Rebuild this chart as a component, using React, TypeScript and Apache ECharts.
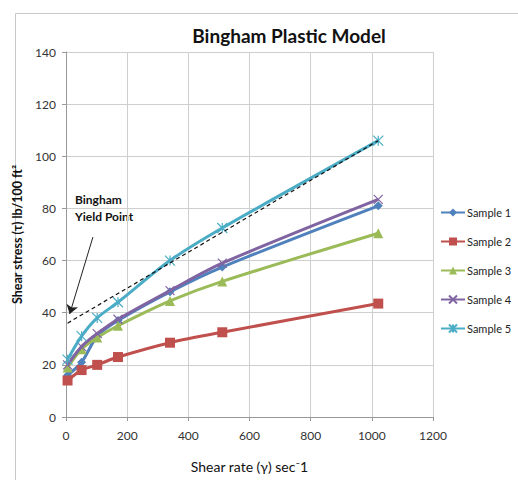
import React, { useEffect, useRef } from "react";
import * as echarts from "echarts";

const shearRate = [5.1, 51, 102, 170, 340, 511, 1021];
const sample1 = [16, 21, 31, 37, 48, 57.5, 81];
const sample2 = [14, 18, 20, 23, 28.5, 32.5, 43.5];
const sample3 = [19, 26, 30.5, 35, 44.5, 52, 70.5];
const sample4 = [20, 27, 32, 37.5, 48.5, 59, 83.5];
const sample5 = [22, 31, 38, 44, 60, 72.5, 106];
const binghamLineX = [5.1, 1021];
const binghamLineY = [36, 106];
const seriesNames = ["Sample 1", "Sample 2", "Sample 3", "Sample 4", "Sample 5"];
const colors = ["#4F81BD", "#C0504D", "#9BBB59", "#8064A2", "#4BACC6"];

const FONT = "Lato, 'Open Sans', sans-serif";

export default function App() {
  const ref = useRef<HTMLDivElement>(null);
  useEffect(() => {
    if (!ref.current) return;
    const chart = echarts.init(ref.current, null, { renderer: "svg" });
    const all = [sample1, sample2, sample3, sample4, sample5];
    const symbols = [
      "diamond",
      "rect",
      "triangle",
      "path://M0,0L10,10M10,0L0,10",
      "path://M0,0L10,10M10,0L0,10M5,0L5,10",
    ];
    const sizes = [9, 10, 10, 9, 10];
    const series: any[] = all.map((vals, i) => ({
      name: seriesNames[i],
      type: "line",
      smooth: 0.3,
      data: vals.map((v, j) => [shearRate[j], v]),
      symbol: symbols[i],
      symbolSize: sizes[i],
      showSymbol: true,
      lineStyle: { color: colors[i], width: 3 },
      itemStyle: {
        color: colors[i],
        borderColor: colors[i],
        borderWidth: i >= 3 ? 1.2 : 0,
      },
      z: 3 + i,
    }));
    series.push({
      name: "Bingham line",
      type: "line",
      data: binghamLineX.map((x, j) => [x, binghamLineY[j]]),
      symbol: "none",
      lineStyle: { color: "#111", width: 1.2, type: [4, 3] },
      z: 10,
      markLine: {
        silent: true,
        symbol: ["none", "arrow"],
        symbolSize: 9,
        label: { show: false },
        lineStyle: { color: "#222", width: 1, type: "solid" },
        data: [[{ coord: [88, 69] }, { coord: [12, 39.5] }]],
      },
    });

    chart.setOption({
      animation: false,
      textStyle: { fontFamily: FONT },
      title: {
        text: "Bingham Plastic Model",
        left: 284,
        top: 21,
        textAlign: "center",
        textStyle: { fontFamily: FONT, fontSize: 19, fontWeight: "bold", color: "#111" },
      },
      grid: { left: 66, right: 85, top: 52, bottom: 63 },
      legend: {
        orient: "vertical",
        left: 440,
        top: 207,
        padding: 0,
        itemGap: 18,
        itemWidth: 24,
        itemHeight: 10,
        data: seriesNames,
        textStyle: { fontFamily: FONT, fontSize: 11, color: "#222", padding: [0, 0, 0, -3] },
      },
      xAxis: {
        type: "value",
        min: 0,
        max: 1200,
        interval: 200,
        name: "Shear rate (γ) sec⁻1",
        nameLocation: "middle",
        nameGap: 42,
        nameTextStyle: { fontFamily: FONT, fontSize: 14, color: "#111" },
        axisLine: { show: true, lineStyle: { color: "#999" } },
        axisTick: { show: true, length: 4, lineStyle: { color: "#999" } },
        axisLabel: {
          fontFamily: FONT,
          fontSize: 12,
          color: "#333",
          margin: 12,
          formatter: (v: number) => String(v),
        },
        splitLine: { show: true, lineStyle: { color: "#cfcfcf" } },
      },
      yAxis: {
        type: "value",
        min: 0,
        max: 140,
        interval: 20,
        name: "Shear stress (τ) lb/100 ft²",
        nameLocation: "middle",
        nameGap: 38,
        nameTextStyle: { fontFamily: FONT, fontSize: 12.5, fontWeight: "bold", color: "#111" },
        axisLine: { show: true, lineStyle: { color: "#999" } },
        axisTick: { show: true, length: 4, lineStyle: { color: "#999" } },
        axisLabel: { fontFamily: FONT, fontSize: 12, color: "#333", margin: 10 },
        splitLine: { show: true, lineStyle: { color: "#cfcfcf" } },
      },
      graphic: [
        {
          type: "rect",
          left: 13,
          top: 11,
          shape: { width: 520, height: 480 },
          style: { fill: "none", stroke: "#c8c8c8", lineWidth: 1 },
          silent: true,
          z: -10,
        },
        {
          type: "text",
          left: 75,
          top: 191,
          style: {
            text: "Bingham\nYield Point",
            font: `bold 12px ${FONT}`,
            fill: "#111",
            lineHeight: 17,
          },
        },
      ],
      series,
    });
    return () => chart.dispose();
  }, []);
  return (
    <div
      ref={ref}
      style={{ width: 518, height: 480, position: "absolute", left: 0, top: 0 }}
    />
  );
}
